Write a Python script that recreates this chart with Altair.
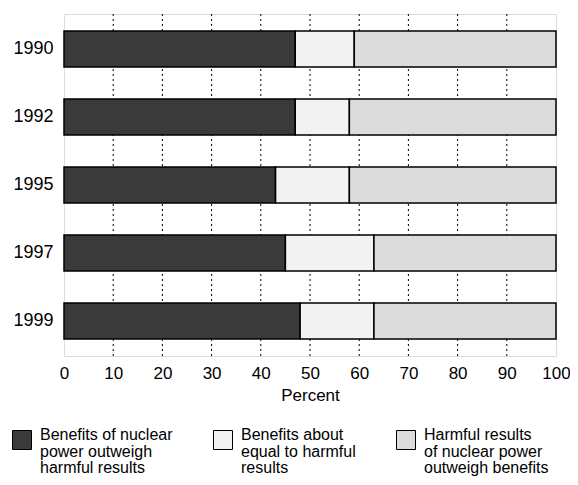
import altair as alt
import pandas as pd

years = ["1990", "1992", "1995", "1997", "1999"]
benefits_outweigh = [47, 47, 43, 45, 48]
about_equal = [12, 11, 15, 18, 15]
harmful_outweigh = [41, 42, 42, 37, 37]

categories = [
    "Benefits of nuclear|power outweigh|harmful results",
    "Benefits about|equal to harmful|results",
    "Harmful results|of nuclear power|outweigh benefits",
]
colors = ["#3a3a3a", "#f2f2f2", "#dcdcdc"]
tick_values = list(range(0, 101, 10))
grid_values = list(range(10, 100, 10))

rows = []
for i, y in enumerate(years):
    for k, (cat, vals) in enumerate(zip(categories, [benefits_outweigh, about_equal, harmful_outweigh])):
        rows.append({"year": y, "category": cat, "value": vals[i], "order": k})
df = pd.DataFrame(rows)

font = "Liberation Sans"
xscale = alt.Scale(domain=[0, 100], nice=False)

grid = alt.Chart(pd.DataFrame({"t": grid_values})).mark_rule(
    color="black", strokeDash=[2, 3], strokeWidth=1
).encode(x=alt.X("t:Q", scale=xscale))

bars = alt.Chart(df).mark_bar(stroke="black", strokeWidth=1.5).encode(
    x=alt.X(
        "value:Q",
        stack="zero",
        scale=xscale,
        axis=alt.Axis(
            values=tick_values,
            title="Percent",
            grid=False,
            ticks=False,
            domain=False,
            labelFlush=False,
            labelFontSize=17,
            labelPadding=9,
            titleFontSize=17,
            titleFontWeight="normal",
            titlePadding=6,
            labelFont=font,
            titleFont=font,
            labelColor="black",
            titleColor="black",
        ),
    ),
    y=alt.Y(
        "year:N",
        sort=years,
        scale=alt.Scale(paddingInner=0.47, paddingOuter=0.25),
        axis=alt.Axis(
            title=None,
            ticks=False,
            domain=False,
            labelFontSize=18,
            labelPadding=11,
            labelFont=font,
            labelColor="black",
        ),
    ),
    color=alt.Color(
        "category:N",
        scale=alt.Scale(domain=categories, range=colors),
        legend=alt.Legend(
            title=None,
            orient="none",
            legendX=-52,
            legendY=416,
            direction="horizontal",
            columns=3,
            columnPadding=38,
            symbolType="square",
            symbolSize=361,
            symbolStrokeColor="black",
            symbolStrokeWidth=1,
            labelExpr="split(datum.label, '|')",
            labelFontSize=16,
            labelFont=font,
            labelColor="black",
            labelBaseline="alphabetic",
            labelOffset=8,
            labelLimit=220,
        ),
    ),
    order=alt.Order("order:Q"),
)

chart = (
    alt.layer(grid, bars)
    .properties(
        width=492,
        height=342,
        autosize=alt.AutoSizeParams(type="none"),
        padding={"left": 56, "top": 6, "right": 14, "bottom": 121},
    )
    .configure_view(stroke="black", strokeWidth=1.5)
    .configure(background="white", style={"guide-label": {"lineHeight": 16.5}})
)

chart.save("out.html", embed_options={"renderer": "svg", "actions": False})
